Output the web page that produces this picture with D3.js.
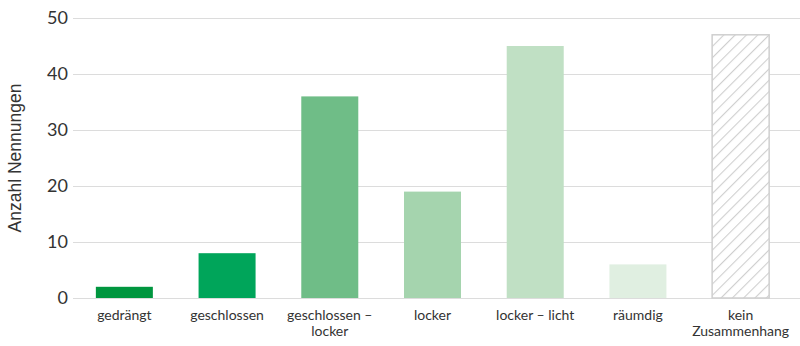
<!DOCTYPE html>
<html lang="de">
  <head>
    <meta charset="utf-8">
    <title>Anzahl Nennungen</title>
    <script src="https://d3js.org/d3.v7.min.js"></script>
    <style>
      body { margin: 0; background: #fff; }
    </style>
  </head>
  <body>
    <script>

  // data
  var categories = ["gedrängt", "geschlossen", "geschlossen –\nlocker", "locker", "locker – licht", "räumdig", "kein\nZusammenhang"];
  var values = [2, 8, 36, 19, 45, 6, 47];
  var barColors = ["#00963f", "#00a55a", "#6fbd87", "#a5d4ae", "#c0e0c4", "#e0efe1", "none"];
  var yTicks = [0, 10, 20, 30, 40, 50];

  var w = 800, h = 346;

  var svg = d3.select("body")
    .append("svg")
    .attr("width", w)
    .attr("height", h);

  // hatch pattern for "kein Zusammenhang"
  var defs = svg.append("defs");
  var pat = defs.append("pattern")
    .attr("id", "hatch")
    .attr("patternUnits", "userSpaceOnUse")
    .attr("width", 8)
    .attr("height", 8)
    .attr("patternTransform", "rotate(45)");
  pat.append("rect").attr("width", 8).attr("height", 8).attr("fill", "#fff");
  pat.append("line")
    .attr("x1", 0).attr("y1", 0).attr("x2", 0).attr("y2", 8)
    .attr("stroke", "#cfcfcf")
    .attr("stroke-width", 2.2);

  var xScale = d3.scaleBand()
    .domain(d3.range(categories.length))
    .range([73, 792])
    .paddingInner(0.445)
    .paddingOuter(0.2225);

  var yScale = d3.scaleLinear()
    .domain([0, 50])
    .range([298, 18]);

  // gridlines + y labels
  var yAxis = d3.axisLeft(yScale)
    .tickValues(yTicks)
    .tickSize(-(w - 73))
    .tickPadding(5);

  var gy = svg.append("g")
    .attr("transform", "translate(73,0)")
    .call(yAxis);
  gy.select(".domain").remove();
  gy.selectAll(".tick line")
    .attr("stroke", "#dcdcdc")
    .attr("stroke-width", 1.2);
  gy.selectAll(".tick text")
    .attr("fill", "#333")
    .style("font-family", "Lato, sans-serif")
    .style("font-size", "18px");

  // bars
  svg.selectAll("rect.bar")
    .data(values)
    .enter()
    .append("rect")
    .attr("class", "bar")
    .attr("x", (d, i) => xScale(i))
    .attr("y", d => yScale(d))
    .attr("width", xScale.bandwidth())
    .attr("height", d => yScale(0) - yScale(d))
    .attr("fill", (d, i) => barColors[i] === "none" ? "url(#hatch)" : barColors[i])
    .attr("stroke", (d, i) => barColors[i] === "none" ? "#cfcfcf" : "none")
    .attr("stroke-width", 1.5);

  // category labels
  var xAxis = d3.axisBottom(xScale)
    .tickSize(0)
    .tickFormat("");
  var gx = svg.append("g")
    .attr("transform", "translate(0,298)")
    .call(xAxis);
  gx.select(".domain").remove();
  gx.selectAll(".tick")
    .append("text")
    .attr("text-anchor", "middle")
    .attr("fill", "#333")
    .style("font-family", "Lato, sans-serif")
    .style("font-size", "14px")
    .selectAll("tspan")
    .data(function (d) { return categories[d].split("\n"); })
    .enter()
    .append("tspan")
    .attr("x", 0)
    .attr("y", (d, i) => 22 + i * 16)
    .text(d => d);

  // y axis title
  svg.append("text")
    .attr("transform", "translate(21,158) rotate(-90)")
    .attr("text-anchor", "middle")
    .attr("fill", "#333")
    .style("font-family", "'Liberation Sans', Arial, sans-serif")
    .style("font-size", "17.5px")
    .text("Anzahl Nennungen");

    </script>
  </body>
</html>
